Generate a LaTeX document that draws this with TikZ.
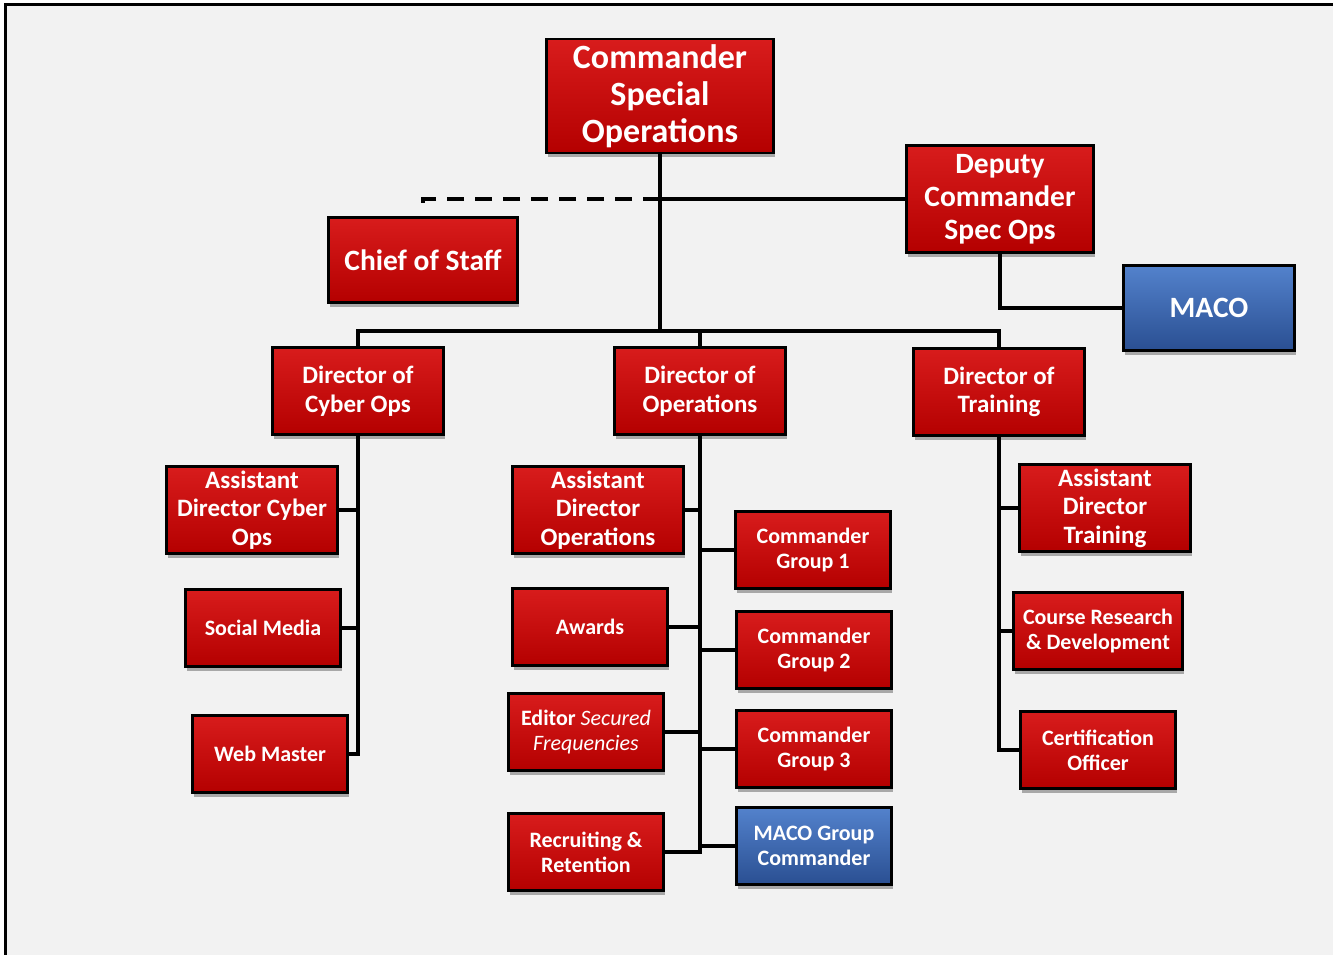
\documentclass[tikz,border=0pt]{standalone}
\usepackage{fontspec}
\setmainfont{Carlito}
\usetikzlibrary{shadows,positioning}

\definecolor{bggray}{HTML}{F2F2F2}
\definecolor{redtop}{HTML}{D81C1C}
\definecolor{redmid}{HTML}{C20202}
\definecolor{redbot}{HTML}{B40000}
\definecolor{bluetop}{HTML}{5382CC}
\definecolor{bluemid}{HTML}{3560A8}
\definecolor{bluebot}{HTML}{2A4F92}

\newcommand\fsz[2]{\fontsize{#1}{#2}\selectfont}

\tikzset{
  orgbox/.style={draw=black, line width=2.8pt, top color=redtop, middle color=redmid, bottom color=redbot,
    text=white, align=center, inner sep=1pt,
    drop shadow={shadow xshift=1.5pt, shadow yshift=-4pt, opacity=0.3, fill=black}},
  bluebox/.style={orgbox, top color=bluetop, middle color=bluemid, bottom color=bluebot},
  bigbox/.style={minimum width=171pt, minimum height=87pt, font=\bfseries\fsz{25}{28.5}},
  smallbox/.style={minimum width=155pt, minimum height=77pt, font=\bfseries\fsz{22}{25}},
  link/.style={line width=3.2pt},
}

\begin{document}
\begin{tikzpicture}[x=1pt, y=-1pt]
  \useasboundingbox (0,0) rectangle (1333,955);
  % background and frame
  \fill[bggray] (5,5) rectangle (1333,955);
  \draw[line width=3pt] (5,955) -- (5,5) -- (1333,5);

  % top level
  \node[orgbox, minimum width=227pt, minimum height=114pt, font=\bfseries\fsz{34}{37}] (cso) at (660,96) {Commander\\Special\\Operations};
  \node[orgbox, minimum width=187pt, minimum height=107pt, font=\bfseries\fsz{29.5}{33}] (dep) at (1000,199) {Deputy\\Commander\\Spec Ops};
  \node[orgbox, minimum width=189pt, minimum height=85pt, font=\bfseries\fsz{29.5}{33}] (cos) at (423,260) {Chief of Staff};
  \node[bluebox, minimum width=171pt, minimum height=85pt, font=\bfseries\fsz{29.5}{33}] (maco) at (1209,308) {MACO};

  % directors
  \node[orgbox, bigbox] (dco) at (358,391) {Director of\\Cyber Ops};
  \node[orgbox, bigbox] (dop) at (700,391) {Director of\\Operations};
  \node[orgbox, bigbox] (dtr) at (999,392) {Director of\\Training};

  % cyber
  \node[orgbox, bigbox] (adc) at (252,510) {Assistant\\Director Cyber\\Ops};
  \node[orgbox, smallbox] (sm) at (263,628) {Social Media};
  \node[orgbox, smallbox] (wm) at (270,754) {Web Master};

  % operations
  \node[orgbox, bigbox] (ado) at (598,510) {Assistant\\Director\\Operations};
  \node[orgbox, smallbox] (aw) at (590,627) {Awards};
  \node[orgbox, smallbox] (ed) at (586,732) {Editor \textit{\mdseries Secured}\\\textit{\mdseries Frequencies}};
  \node[orgbox, smallbox] (rr) at (586,852) {Recruiting \&\\Retention};
  \node[orgbox, smallbox] (cg1) at (813,550) {Commander\\Group 1};
  \node[orgbox, smallbox] (cg2) at (814,650) {Commander\\Group 2};
  \node[orgbox, smallbox] (cg3) at (814,749) {Commander\\Group 3};
  \node[bluebox, smallbox] (mgc) at (814,846) {MACO Group\\Commander};

  % training
  \node[orgbox, bigbox] (adt) at (1105,508) {Assistant\\Director\\Training};
  \node[orgbox, smallbox, minimum width=169pt] (crd) at (1098,631) {Course Research\\\& Development};
  \node[orgbox, smallbox] (cert) at (1098,750) {Certification\\Officer};

  \coordinate (bar) at (660,331);
  \coordinate (costop) at ([yshift=12pt]cos.north);

  % upper links
  \draw[link] (cso.south) -- (bar);
  \draw[link] (cso.south) |- (dep.west);
  \draw[link, dash pattern=on 17pt off 11pt] (cso.south |- dep.west) -| (costop);
  \draw[link] (dep.south) |- (maco.west);
  \draw[link] (dco.north) -- (dco.north |- bar) -- (dtr.north |- bar) -- (dtr.north);
  \draw[link] (dop.north) -- (dop.north |- bar);

  % cyber links
  \draw[link] (dco.south) |- (wm.east);
  \draw[link] (adc.east) -- (adc.east -| dco.south);
  \draw[link] (sm.east) -- (sm.east -| dco.south);

  % operations links
  \draw[link] (dop.south) |- (rr.east);
  \foreach \n in {ado,aw,ed,cg1,cg2,cg3,mgc}
    \draw[link] (\n) -- (\n -| dop.south);

  % training links
  \draw[link] (dtr.south) |- (cert.west);
  \draw[link] (adt.west) -- (adt.west -| dtr.south);
  \draw[link] (crd.west) -- (crd.west -| dtr.south);
\end{tikzpicture}
\end{document}
